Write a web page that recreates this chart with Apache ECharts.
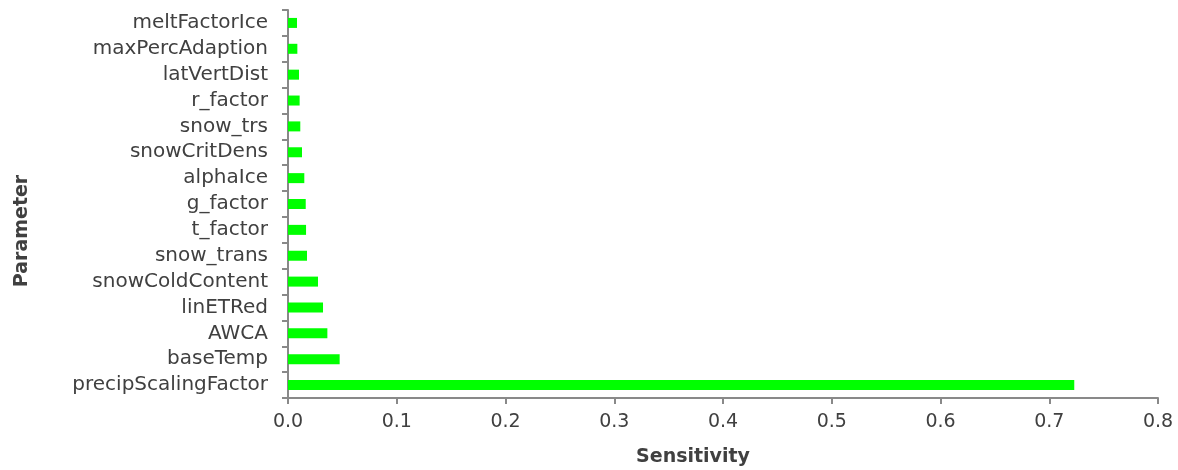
<!DOCTYPE html>
<html>
<head>
<meta charset="utf-8">
<script src="https://cdn.jsdelivr.net/npm/echarts@6/dist/echarts.min.js"></script>
<style>
  html, body { margin: 0; padding: 0; background: #fff; }
  #chart { width: 1178px; height: 470px; }
</style>
</head>
<body>
<div id="chart"></div>
<script>
// Parameters listed bottom to top (category axis runs upward)
const parameters = [
  'precipScalingFactor', 'baseTemp', 'AWCA', 'linETRed', 'snowColdContent',
  'snow_trans', 't_factor', 'g_factor', 'alphaIce', 'snowCritDens',
  'snow_trs', 'r_factor', 'latVertDist', 'maxPercAdaption', 'meltFactorIce'
];
const sensitivity = [
  0.723, 0.0475, 0.0362, 0.0322, 0.0276,
  0.0175, 0.0166, 0.0163, 0.0150, 0.0129,
  0.0113, 0.0107, 0.0101, 0.0086, 0.0083
];
const xTicks = { min: 0, max: 0.8, interval: 0.1 };

const FONT = '"DejaVu Sans", sans-serif';
const axisGray = '#898989';
const textColor = '#404040';

const chart = echarts.init(document.getElementById('chart'), null, { renderer: 'canvas' });
chart.setOption({
  animation: false,
  grid: { left: 288, right: 20, top: 10, bottom: 72, containLabel: false, outerBoundsMode: 'none' },
  xAxis: {
    type: 'value',
    min: xTicks.min, max: xTicks.max, interval: xTicks.interval,
    name: 'Sensitivity',
    nameLocation: 'middle',
    nameGap: 50,
    nameTextStyle: {
      fontFamily: FONT, fontSize: 19, fontWeight: 'bold', color: textColor,
      padding: [0, 60, 0, 0]
    },
    axisLine: { show: true, lineStyle: { color: axisGray, width: 2 } },
    axisTick: { show: true, length: 6, lineStyle: { color: axisGray, width: 2 } },
    splitLine: { show: false },
    axisLabel: {
      fontFamily: FONT, fontSize: 19, color: textColor, margin: 15,
      formatter: v => v.toFixed(1)
    }
  },
  yAxis: {
    type: 'category',
    data: parameters,
    name: 'Parameter',
    nameLocation: 'middle',
    nameRotate: 90,
    nameGap: 256,
    nameTextStyle: {
      fontFamily: FONT, fontSize: 19, fontWeight: 'bold', color: textColor,
      padding: [0, 54, 0, 0]
    },
    axisLine: { show: true, lineStyle: { color: axisGray, width: 2 } },
    axisTick: { show: true, length: 6, lineStyle: { color: axisGray, width: 2 } },
    axisLabel: { interval: 0, fontFamily: FONT, fontSize: 20, color: textColor, margin: 20 }
  },
  series: [{
    type: 'bar',
    data: sensitivity,
    barWidth: 10,
    itemStyle: { color: '#00ff00' }
  }]
});
</script>
</body>
</html>
